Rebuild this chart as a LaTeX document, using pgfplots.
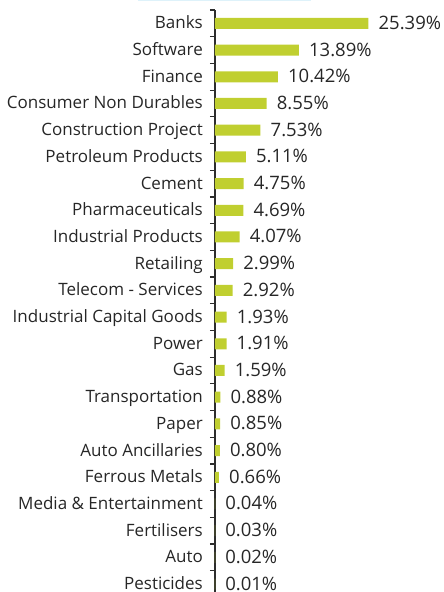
\documentclass[border=0pt]{standalone}
\usepackage{fontspec}
\setmainfont{Open Sans}
\usepackage{pgfplots}
\usepackage{pgfplotstable}
\pgfplotsset{compat=1.18}
\definecolor{barcol}{RGB}{192,207,48}
\definecolor{txt}{RGB}{38,38,38}
\definecolor{axcol}{RGB}{45,45,45}
\definecolor{strip}{RGB}{222,242,250}
\pgfplotstableread{
idx value
0 25.39
1 13.89
2 10.42
3 8.55
4 7.53
5 5.11
6 4.75
7 4.69
8 4.07
9 2.99
10 2.92
11 1.93
12 1.91
13 1.59
14 0.88
15 0.85
16 0.80
17 0.66
18 0.04
19 0.03
20 0.02
21 0.01
}\datatable
\begin{document}
\begin{tikzpicture}[font=\fontsize{17}{20}\selectfont, text=txt]
\useasboundingbox (0,0) rectangle (444pt,592pt);
\fill[strip] (138pt,590.7pt) rectangle (311pt,592pt);
\begin{axis}[
  at={(215pt,582pt)}, anchor=north west,
  scale only axis, width=229pt, height=587.4pt,
  xmin=0, xmax=37.9, ymin=-0.5, ymax=21.5, y dir=reverse,
  axis x line=none, axis y line*=left,
  y axis line style={line width=1.3pt, axcol},
  ytick={0,...,21},
  yticklabels={Banks,Software,Finance,Consumer Non Durables,Construction Project,Petroleum Products,Cement,Pharmaceuticals,Industrial Products,Retailing,Telecom - Services,Industrial Capital Goods,Power,Gas,Transportation,Paper,Auto Ancillaries,Ferrous Metals,Media \& Entertainment,Fertilisers,Auto,Pesticides},
  minor ytick={-0.5,0.5,...,21.5},
  major tick length=0pt, minor tick length=5pt, tick align=outside,
  minor tick style={line width=1.2pt, axcol},
  yticklabel style={inner sep=0pt, text=txt, anchor=east, text height=12.5pt, text depth=3.5pt, yshift=-1pt},
  yticklabel shift=12pt,
  /pgf/number format/assume math mode=true,
  point meta=x,
  nodes near coords={\pgfmathprintnumber[fixed,fixed zerofill,precision=2]{\pgfplotspointmeta}\%},
  every node near coord/.append style={anchor=west, inner sep=0pt, xshift=10pt, text=txt, font=\fontsize{18.5}{21}\selectfont, text height=13.5pt, text depth=3.5pt, yshift=-1pt},
  clip=false,
]
\addplot[xbar, fill=barcol, draw=none, bar width=11pt] table[x=value, y=idx] {\datatable};
\end{axis}
\end{tikzpicture}
\end{document}
